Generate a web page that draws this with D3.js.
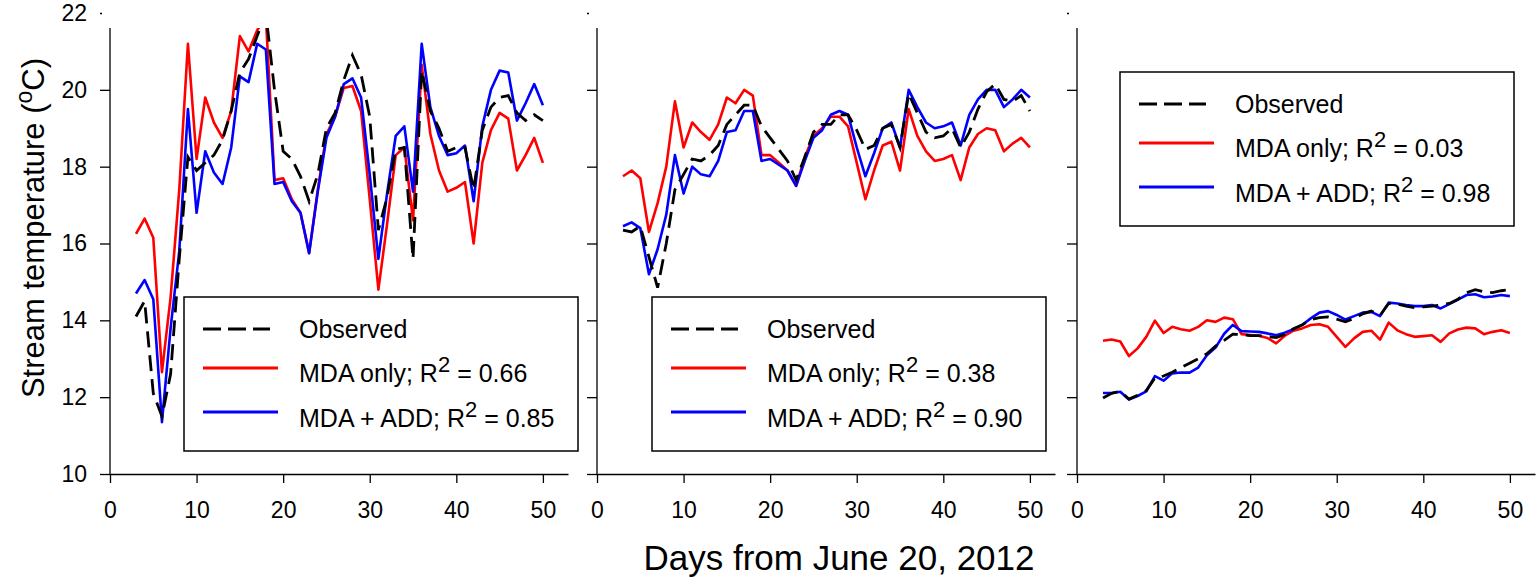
<!DOCTYPE html>
<html>
<head>
<meta charset="utf-8">
<script src="https://cdn.jsdelivr.net/npm/d3@7"></script>
<style>
  body { margin: 0; background: #fff; }
  svg { display: block; }
</style>
</head>
<body>
<script>
// days since June 20, 2012
const days = [3, 4, 5, 6, 7, 8, 9, 10, 11, 12, 13, 14, 15, 16, 17, 18, 19, 20, 21, 22, 23, 24, 25, 26,
  27, 28, 29, 30, 31, 32, 33, 34, 35, 36, 37, 38, 39, 40, 41, 42, 43, 44, 45, 46, 47, 48, 49, 50];

// panel 1
const observed1 = [14.1, 14.5, 12.1, 11.5, 12.6, 15.6, 18.25, 17.9, 18.1, 18.3, 18.7, 19.45, 20.45, 20.8, 21.4, 22.0,
  20.0, 18.4, 18.2, 17.75, 17.1, 17.8, 19.0, 19.4, 20.25, 20.9, 20.4, 19.3, 16.35, 17.2, 18.45, 18.5,
  15.6, 20.5, 19.45, 19.0, 18.4, 18.5, 18.5, 17.4, 18.95, 19.55, 19.8, 19.85, 19.4, 19.2, 19.35, 19.2];
const mdaOnly1 = [16.25, 16.65, 16.15, 12.65, 14.6, 17.4, 21.2, 18.2, 19.8, 19.15, 18.75, 19.45, 21.4, 21.0, 21.55, 21.9,
  17.65, 17.7, 17.15, 16.8, 15.75, 17.4, 18.85, 19.3, 20.05, 20.1, 19.45, 17.15, 14.8, 16.5, 18.3, 18.5,
  16.6, 20.65, 18.85, 17.9, 17.35, 17.45, 17.6, 16.0, 18.1, 18.95, 19.4, 19.25, 17.9, 18.3, 18.75, 18.1];
const mdaAdd1 = [14.7, 15.05, 14.55, 11.35, 13.8, 15.8, 19.5, 16.8, 18.4, 17.85, 17.55, 18.5, 20.35, 20.2, 21.2, 21.05,
  17.55, 17.6, 17.1, 16.8, 15.75, 17.35, 18.75, 19.3, 20.15, 20.3, 19.8, 17.8, 15.6, 17.3, 18.8, 19.05,
  17.35, 21.2, 19.55, 18.8, 18.3, 18.35, 18.55, 17.1, 19.05, 20.0, 20.5, 20.45, 19.2, 19.65, 20.15, 19.6];

// panel 2
const observed2 = [16.35, 16.3, 16.45, 15.65, 14.85, 16.0, 17.4, 17.8, 18.2, 18.15, 18.3, 18.55, 19.1, 19.35, 19.6, 19.6,
  19.05, 18.75, 18.45, 18.15, 17.65, 18.25, 18.9, 19.1, 19.1, 19.35, 19.35, 18.95, 18.45, 18.55, 19.0, 19.1,
  18.5, 19.9, 19.4, 18.9, 18.75, 18.8, 19.0, 18.5, 18.9, 19.5, 19.95, 20.15, 19.75, 19.7, 19.85, 19.45];
const mdaOnly2 = [17.75, 17.9, 17.7, 16.3, 17.05, 18.0, 19.7, 18.5, 19.15, 18.9, 18.7, 19.1, 19.8, 19.65, 20.0, 19.85,
  18.3, 18.3, 18.1, 17.9, 17.5, 18.25, 18.8, 19.0, 19.3, 19.3, 19.05, 18.1, 17.15, 17.9, 18.55, 18.65,
  17.9, 19.5, 18.8, 18.4, 18.15, 18.2, 18.3, 17.65, 18.5, 18.85, 19.0, 18.95, 18.4, 18.6, 18.75, 18.5];
const mdaAdd2 = [16.45, 16.55, 16.4, 15.2, 15.85, 16.75, 18.3, 17.3, 18.0, 17.8, 17.75, 18.15, 18.9, 18.95, 19.45, 19.45,
  18.15, 18.2, 18.05, 17.9, 17.5, 18.15, 18.75, 18.95, 19.35, 19.45, 19.35, 18.5, 17.75, 18.35, 19.0, 19.15,
  18.5, 20.0, 19.55, 19.15, 19.0, 19.05, 19.15, 18.55, 19.35, 19.75, 20.0, 20.0, 19.55, 19.75, 20.0, 19.8];

// panel 3
const observed3 = [11.98, 12.1, 12.15, 11.95, 12.05, 12.17, 12.5, 12.55, 12.65, 12.77, 12.88, 13.0, 13.13, 13.33, 13.48, 13.64,
  13.63, 13.6, 13.6, 13.58, 13.55, 13.63, 13.78, 13.88, 14.02, 14.07, 14.09, 14.03, 13.96, 14.05, 14.17, 14.24,
  14.13, 14.44, 14.42, 14.37, 14.33, 14.35, 14.37, 14.4, 14.44, 14.55, 14.72, 14.8, 14.74, 14.72, 14.77, 14.8];
const mdaOnly3 = [13.47, 13.5, 13.45, 13.07, 13.27, 13.57, 13.99, 13.67, 13.83, 13.77, 13.73, 13.83, 14.0, 13.96, 14.07, 14.03,
  13.64, 13.62, 13.6, 13.54, 13.4, 13.6, 13.73, 13.79, 13.88, 13.9, 13.83, 13.57, 13.31, 13.53, 13.7, 13.73,
  13.5, 13.94, 13.74, 13.64, 13.57, 13.59, 13.61, 13.44, 13.66, 13.76, 13.81, 13.79, 13.64, 13.7, 13.74, 13.67];
const mdaAdd3 = [12.11, 12.11, 12.14, 11.94, 12.03, 12.15, 12.55, 12.43, 12.62, 12.64, 12.64, 12.77, 13.09, 13.29, 13.65, 13.88,
  13.72, 13.71, 13.7, 13.66, 13.61, 13.68, 13.77, 13.88, 14.05, 14.2, 14.24, 14.14, 14.02, 14.11, 14.2, 14.22,
  14.11, 14.46, 14.44, 14.4, 14.37, 14.37, 14.4, 14.31, 14.42, 14.54, 14.66, 14.68, 14.6, 14.62, 14.66, 14.63];

const r2Only = ["0.66", "0.38", "0.03"];
const r2Add = ["0.85", "0.90", "0.98"];
const xTicks = [0, 10, 20, 30, 40, 50];
const yTicks = [10, 12, 14, 16, 18, 20, 22];

const font = "Liberation Sans, Arial, Helvetica, sans-serif";
const width = 1540, height = 580;
const panelLeft = [110, 597, 1077];
const panelWidth = 458;
const plotTop = 28, plotBottom = 474;
const legendPos = [[184, 297], [652, 297], [1120, 72]];
const legendW = 394, legendH = 154;

const panels = [
  { obs: observed1, only: mdaOnly1, add: mdaAdd1 },
  { obs: observed2, only: mdaOnly2, add: mdaAdd2 },
  { obs: observed3, only: mdaOnly3, add: mdaAdd3 },
];

const svg = d3.select("body").append("svg")
  .attr("width", width)
  .attr("height", height)
  .attr("viewBox", [0, 0, width, height]);

const y = d3.scaleLinear([10, 22], [474, 13]);

svg.append("defs").append("clipPath")
  .attr("id", "plotclip")
  .append("rect")
  .attr("x", 0).attr("y", plotTop)
  .attr("width", width).attr("height", plotBottom - plotTop);

panels.forEach((p, k) => {
  const x = d3.scaleLinear([0, 52.9], [panelLeft[k], panelLeft[k] + panelWidth]);

  // x axis
  svg.append("g")
    .attr("transform", `translate(0,${plotBottom})`)
    .call(d3.axisBottom(x).tickValues(xTicks).tickSize(9).tickSizeOuter(0).tickPadding(19))
    .call((g) => g.select(".domain").attr("stroke-width", 1.3))
    .call((g) => g.selectAll(".tick line").attr("stroke-width", 1.3))
    .call((g) => g.selectAll(".tick text").attr("font-size", 23).attr("font-family", font).attr("fill", "#000"));

  // y axis
  const ya = svg.append("g")
    .attr("transform", `translate(${panelLeft[k]},0)`)
    .call(d3.axisLeft(y).tickValues(yTicks).tickSize(10).tickPadding(13));
  ya.select(".domain").remove();
  ya.append("line")
    .attr("y1", plotTop).attr("y2", plotBottom)
    .attr("stroke", "#000").attr("stroke-width", 1.3);
  ya.selectAll(".tick line").attr("stroke-width", 1.3)
    .filter((d) => d === 22).attr("x2", -8).attr("x1", -10);
  ya.selectAll(".tick text").attr("font-size", 23).attr("font-family", font).attr("fill", "#000");
  if (k > 0) ya.selectAll(".tick text").remove();

  // lines
  const line = (vals) => d3.line()
    .x((d, i) => x(days[i]))
    .y((d) => y(d))(vals);
  const plot = svg.append("g").attr("clip-path", "url(#plotclip)");
  plot.append("path").attr("d", line(p.only))
    .attr("fill", "none").attr("stroke", "#ff0000").attr("stroke-width", 2.6)
    .attr("stroke-linejoin", "round");
  plot.append("path").attr("d", line(p.add))
    .attr("fill", "none").attr("stroke", "#0000ff").attr("stroke-width", 2.6)
    .attr("stroke-linejoin", "round");
  plot.append("path").attr("d", line(p.obs))
    .attr("fill", "none").attr("stroke", "#000").attr("stroke-width", 2.8)
    .attr("stroke-dasharray", "16,8");

  // legend
  const [lx, ly] = legendPos[k];
  const lg = svg.append("g").attr("transform", `translate(${lx},${ly})`);
  lg.append("rect")
    .attr("width", legendW).attr("height", legendH)
    .attr("fill", "#fff").attr("stroke", "#000").attr("stroke-width", 1.5);
  const rows = [
    { stroke: "#000", dash: "18,7", x2: 86, yl: 32, yt: 41, label: "Observed" },
    { stroke: "#ff0000", dash: null, x2: 94, yl: 71, yt: 85, label: "MDA only; R", r2: r2Only[k] },
    { stroke: "#0000ff", dash: null, x2: 94, yl: 115, yt: 130, label: "MDA + ADD; R", r2: r2Add[k] },
  ];
  rows.forEach((r) => {
    lg.append("line")
      .attr("x1", 19).attr("x2", r.x2).attr("y1", r.yl).attr("y2", r.yl)
      .attr("stroke", r.stroke).attr("stroke-width", 3)
      .attr("stroke-dasharray", r.dash);
    const t = lg.append("text")
      .attr("x", 115).attr("y", r.yt)
      .attr("font-size", 25).attr("font-family", font)
      .text(r.label);
    if (r.r2) {
      t.append("tspan").attr("dy", -10).attr("font-size", 22).text("2");
      t.append("tspan").attr("dy", 10).text(" = " + r.r2);
    }
  });
});

// axis titles
const yt = svg.append("text")
  .attr("transform", "translate(44,228) rotate(-90)")
  .attr("text-anchor", "middle")
  .attr("font-size", 31).attr("font-family", font)
  .text("Stream temperature (");
yt.append("tspan").attr("dy", -12).attr("font-size", 23).text("o");
yt.append("tspan").attr("dy", 12).text("C)");

svg.append("text")
  .attr("x", 839).attr("y", 570)
  .attr("text-anchor", "middle")
  .attr("font-size", 35).attr("font-family", font)
  .text("Days from June 20, 2012");
</script>
</body>
</html>
